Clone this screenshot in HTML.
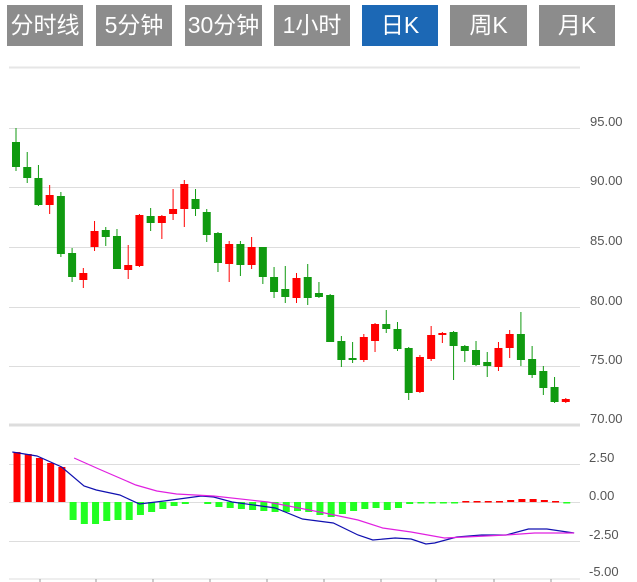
<!DOCTYPE html>
<html><head><meta charset="utf-8"><style>
body{margin:0;background:#fff;width:637px;height:582px;overflow:hidden;font-family:"Liberation Sans","Noto Sans CJK SC",sans-serif}
.b{position:absolute;top:5px;height:41px;background:#8c8c8c;color:#fff;font-size:23px;line-height:41px;text-align:center}
</style></head><body>
<div class="b" style="left:7px;width:76px">分时线</div>
<div class="b" style="left:96px;width:76px">5分钟</div>
<div class="b" style="left:185px;width:77px">30分钟</div>
<div class="b" style="left:274px;width:76px">1小时</div>
<div class="b" style="left:362px;width:76px;background:#1c68b5">日K</div>
<div class="b" style="left:450px;width:77px">周K</div>
<div class="b" style="left:539px;width:76px">月K</div>
<svg id="s" width="637" height="582" style="position:absolute;left:0;top:0" font-family="Liberation Sans, sans-serif" font-size="13" fill="#555"></svg>
<script>
var s=document.getElementById('s'),h='';
function L(x1,y1,x2,y2,c,w){h+='<line x1="'+x1+'" y1="'+y1+'" x2="'+x2+'" y2="'+y2+'" stroke="'+c+'" stroke-width="'+(w||1)+'"/>';}
function R(x,y,w,hh,c){h+='<rect x="'+x+'" y="'+y+'" width="'+w+'" height="'+Math.max(hh,1.5)+'" fill="'+c+'"/>';}
function T(x,y,t){h+='<text x="'+x+'" y="'+y+'">'+t+'</text>';}
L(9,67.5,580,67.5,'#e6e6e6',2);
var g=[[128,'95.00'],[187,'90.00'],[247,'85.00'],[307,'80.00'],[366,'75.00']];
g.forEach(function(a){L(9,a[0]+.5,580,a[0]+.5,'#ddd');T(590,a[0]-2,a[1]);});
L(9,425,580,425,'#ddd',3);T(590,423,'70.00');
var m=[[464,'2.50'],[502,'0.00'],[541,'-2.50'],[578,'-5.00']];
m.forEach(function(a){if(a[0]<578)L(9,a[0]+.5,580,a[0]+.5,'#ddd');T(589,a[0]-2,a[1]);});
L(9,579,580,579,'#ddd');
[40,96,153,210,267,324,381,436,494,551].forEach(function(x){L(x,579,x,582,'#999');});
var c=[['g',142,167,128,171],['g',167,178,152,183],['g',178,205,165,206],['r',195,205,185,214],['g',196,254,192,257],['g',253,277,248,282],['r',273,280,268,288],['r',231,247,221,251],['g',230,237,227,246],['g',236,269,229,269],['r',265,270,245,279],['r',215,266,214,267],['g',216,223,208,231],['r',216,223,215,239],['r',209,214,189,220],['r',184,209,180,227],['g',199,209,189,216],['g',212,235,209,242],['g',233,263,232,272],['r',244,264,241,282],['g',244,265,241,276],['r',247,265,237,269],['g',247,277,247,284],['g',277,292,267,298],['g',289,297,266,303],['r',278,298,273,303],['g',277,298,264,305],['g',293,297,282,298],['g',295,342,294,342],['g',341,360,336,367],['g',358,360,342,363],['r',337,360,334,362],['r',324,341,323,352],['g',324,329,310,333],['g',329,349,322,351],['g',348,393,347,400],['r',357,392,355,393],['r',335,359,326,361],['r',333,335,332,343],['g',332,346,331,380],['g',346,351,345,362],['g',350,365,341,366],['g',362,366,352,377],['r',348,367,342,371],['r',334,348,330,358],['g',334,360,312,366],['g',359,375,346,378],['g',371,388,366,395],['g',387,402,377,403],['r',399,402,398,403]];
c.forEach(function(d,i){var x=16+11.22*i,col=d[0]=='r'?'#f00':'#109a10';L(x,d[3],x,d[4],col);R(x-4,d[1],8,d[2]-d[1],col);});
var hv=[50,48,44,39,35,-18,-22,-22,-19,-18,-18,-13,-10,-7,-4,-2,0,-2,-5,-6,-7,-8,-9,-10,-10,-9,-10,-13,-15,-12,-9,-7,-6,-8,-6,-2,0,0,0,0,1,1,1,1,2,3,3,2,1,-1];
hv.forEach(function(v,i){var x=17+11.22*i;if(v>0)R(x-3.5,502-v,7,v,'#f00');else if(v<0)R(x-3.5,502,7,-v,'#2f2');else if(i>35)R(x-3.5,502,7,1.5,'#2f2');});
function P(str,col){var p=str.split(' ').map(function(q){var a=q.split(',');return (a[0]*1.2346).toFixed(1)+','+a[1];}).join(' ');h+='<polyline fill="none" stroke="'+col+'" stroke-width="1.2" points="'+p+'"/>';}
P("10,452 30,456 50,467 68,486 78,490 97,495 113,504 133,501 163,496 173,497 188,502 223,508 245,519 270,523 290,535 302,540 320,538 333,539 345,544 352,543 370,537 390,535 410,535 428,529 443,529 465,533",'#1010b0');
P("60,458 80,469 110,485 127,491 143,494 173,496 217,502 263,513 290,520 310,528 333,532 360,538 377,537 410,535 433,533 465,533",'#e020e0');
s.innerHTML=h;
</script>
</body></html>
